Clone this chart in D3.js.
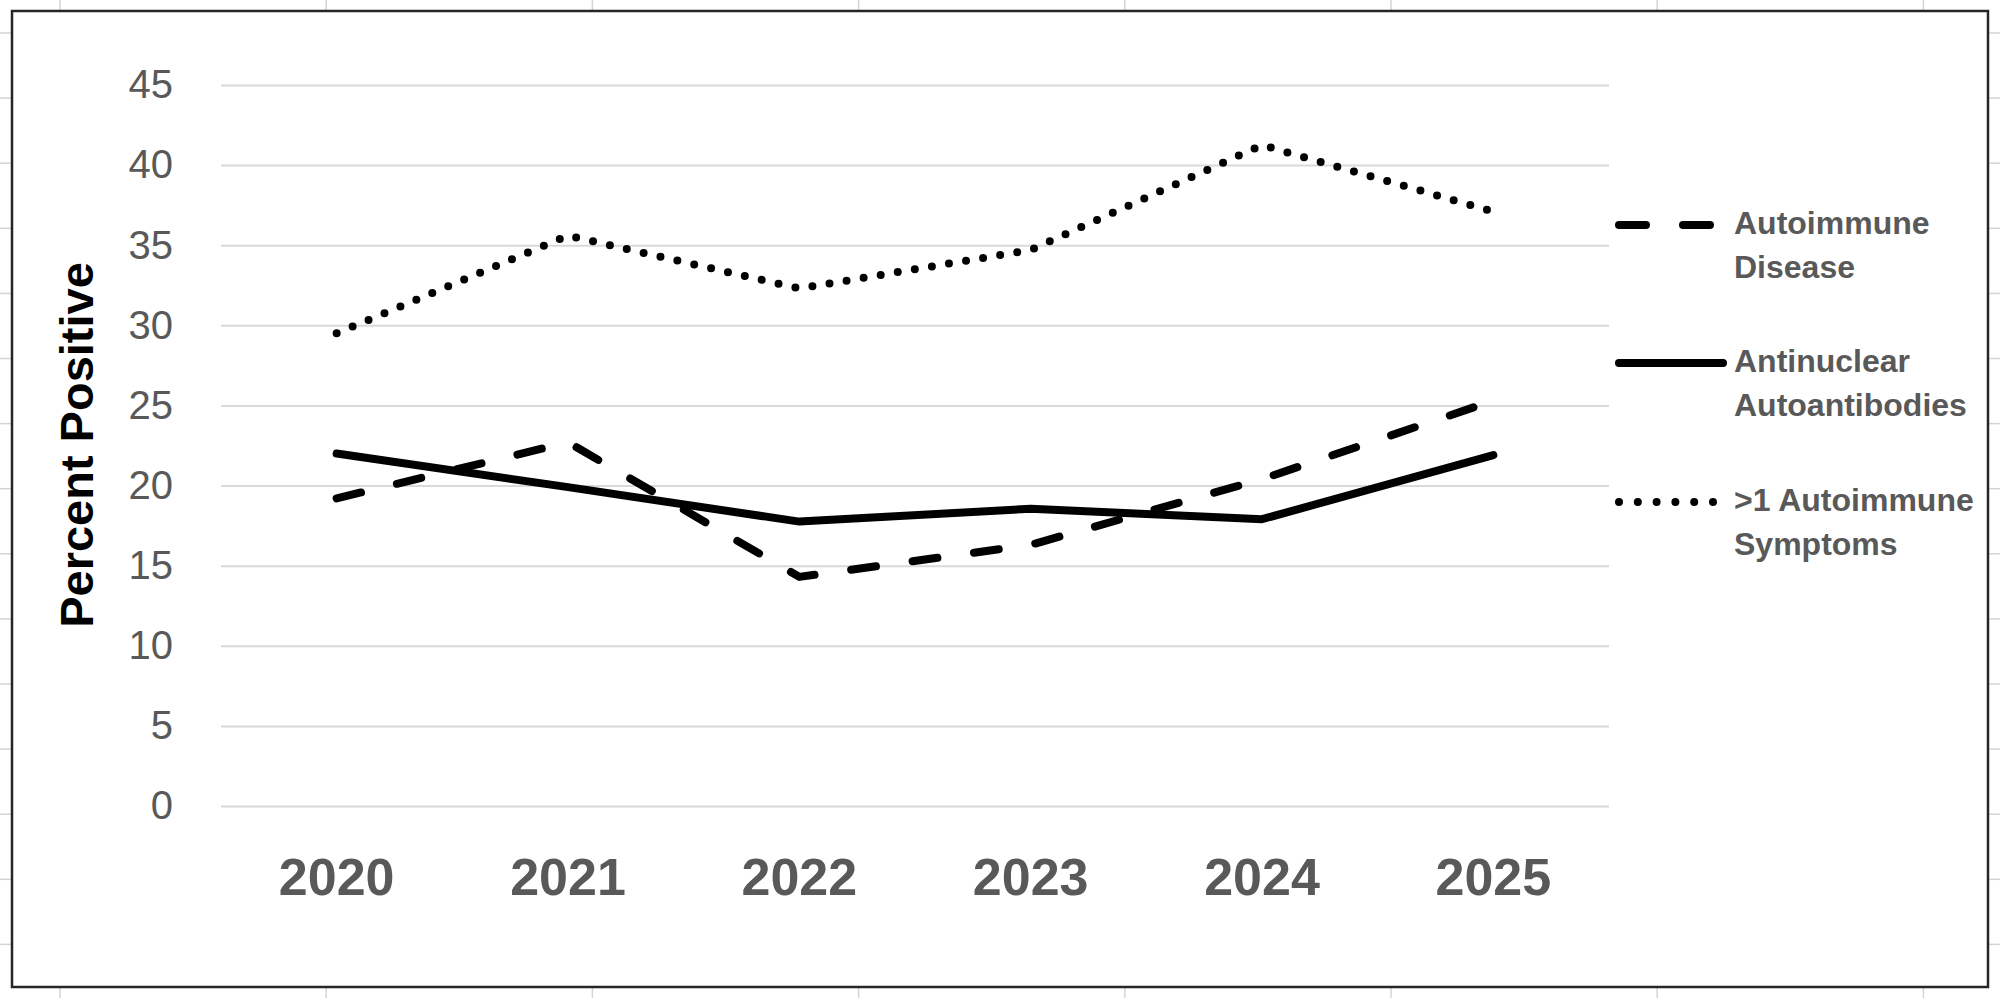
<!DOCTYPE html>
<html>
<head>
<meta charset="utf-8">
<script src="https://cdn.jsdelivr.net/npm/d3@7"></script>
<style>
  html, body { margin: 0; padding: 0; background: #fff; }
  svg { display: block; }
  text { font-family: "Liberation Sans", Arial, sans-serif; }
</style>
</head>
<body>
<svg id="chart" width="2000" height="998"></svg>
<script>
// ---- data ----
const years = ["2020", "2021", "2022", "2023", "2024", "2025"];
const autoimmuneDisease = [19.2, 22.7, 14.3, 16.3, 20.4, 25.3];
const antinuclearAutoantibodies = [22.0, 19.9, 17.75, 18.55, 17.9, 21.9];
const multipleSymptoms = [29.5, 35.6, 32.3, 34.7, 41.25, 37.1];
const yTicks = [0, 5, 10, 15, 20, 25, 30, 35, 40, 45];
const seriesNames = [["Autoimmune", "Disease"], ["Antinuclear", "Autoantibodies"], [">1 Autoimmune", "Symptoms"]];
const yTitle = "Percent Positive";

// ---- layout ----
const W = 2000, H = 998;
const plot = { left: 221, right: 1609, top: 85, bottom: 806 };
const svg = d3.select("#chart");

// spreadsheet grid stubs outside chart border
const frame = { x0: 12, y0: 11, x1: 1988, y1: 987 };
const stubG = svg.append("g").attr("stroke", "#d4d4d4").attr("stroke-width", 1.5);
const colXs = d3.range(60, 2000, 266.2);
const rowYs = d3.range(33, 998, 65.1);
colXs.forEach(x => {
  stubG.append("line").attr("x1", x).attr("x2", x).attr("y1", 0).attr("y2", frame.y0);
  stubG.append("line").attr("x1", x).attr("x2", x).attr("y1", frame.y1).attr("y2", H);
});
rowYs.forEach(y => {
  stubG.append("line").attr("x1", 0).attr("x2", frame.x0).attr("y1", y).attr("y2", y);
  stubG.append("line").attr("x1", frame.x1).attr("x2", W).attr("y1", y).attr("y2", y);
});

// chart area frame
svg.append("rect")
  .attr("x", frame.x0).attr("y", frame.y0)
  .attr("width", frame.x1 - frame.x0).attr("height", frame.y1 - frame.y0)
  .attr("fill", "#fff").attr("stroke", "#262626").attr("stroke-width", 2.5);

// scales
const x = d3.scaleBand().domain(years).range([plot.left, plot.right]).padding(0);
const y = d3.scaleLinear().domain([0, 45]).range([plot.bottom, plot.top]);
const cx = d => x(d) + x.bandwidth() / 2;

// y axis with gridlines
const yAxis = d3.axisLeft(y).tickValues(yTicks).tickFormat(d3.format("d"))
  .tickSize(-(plot.right - plot.left)).tickPadding(48);
const yg = svg.append("g").attr("transform", `translate(${plot.left},0)`).call(yAxis);
yg.select(".domain").remove();
yg.selectAll(".tick line").attr("stroke", "#d9d9d9").attr("stroke-width", 2);
yg.selectAll(".tick text").attr("fill", "#595959").attr("font-size", 40)
  .style("font-family", "'Liberation Sans', Arial, sans-serif");

// x axis
const xAxis = d3.axisBottom(x).tickSize(0).tickPadding(52);
const xg = svg.append("g").attr("transform", `translate(0,${plot.bottom})`).call(xAxis);
xg.select(".domain").remove();
xg.selectAll(".tick text").attr("fill", "#595959").attr("font-size", 52).attr("font-weight", "bold")
  .style("font-family", "'Liberation Sans', Arial, sans-serif");

// y title
svg.append("text")
  .attr("transform", `translate(93,445) rotate(-90)`)
  .attr("text-anchor", "middle")
  .attr("font-size", 47).attr("font-weight", "bold").attr("fill", "#000")
  .text(yTitle);

// series
const styles = [
  { data: autoimmuneDisease, dash: "25 37" },
  { data: antinuclearAutoantibodies, dash: null },
  { data: multipleSymptoms, dash: "0 17.3" }
];
const line = d3.line().x((d, i) => cx(years[i])).y(d => y(d));
styles.forEach(s => {
  svg.append("path")
    .datum(s.data)
    .attr("d", line)
    .attr("fill", "none")
    .attr("stroke", "#000")
    .attr("stroke-width", 8)
    .attr("stroke-linecap", "round")
    .attr("stroke-linejoin", "round")
    .attr("stroke-dasharray", s.dash);
});

// legend
const legendYs = [225, 363, 502];
const legendDash = ["27 37", null, "0 18.8"];
const legendEnds = [1711, 1723, 1713];
seriesNames.forEach((names, i) => {
  const ly = legendYs[i];
  svg.append("line")
    .attr("x1", 1619).attr("x2", legendEnds[i]).attr("y1", ly).attr("y2", ly)
    .attr("stroke", "#000").attr("stroke-width", 8)
    .attr("stroke-linecap", "round")
    .attr("stroke-dasharray", legendDash[i]);
  const t = svg.append("text")
    .attr("x", 1734).attr("y", ly + 9)
    .attr("font-size", 32).attr("font-weight", "bold").attr("fill", "#595959");
  names.forEach((n, j) => {
    t.append("tspan").attr("x", 1734).attr("dy", j === 0 ? 0 : 44).text(n);
  });
});
</script>
</body>
</html>
